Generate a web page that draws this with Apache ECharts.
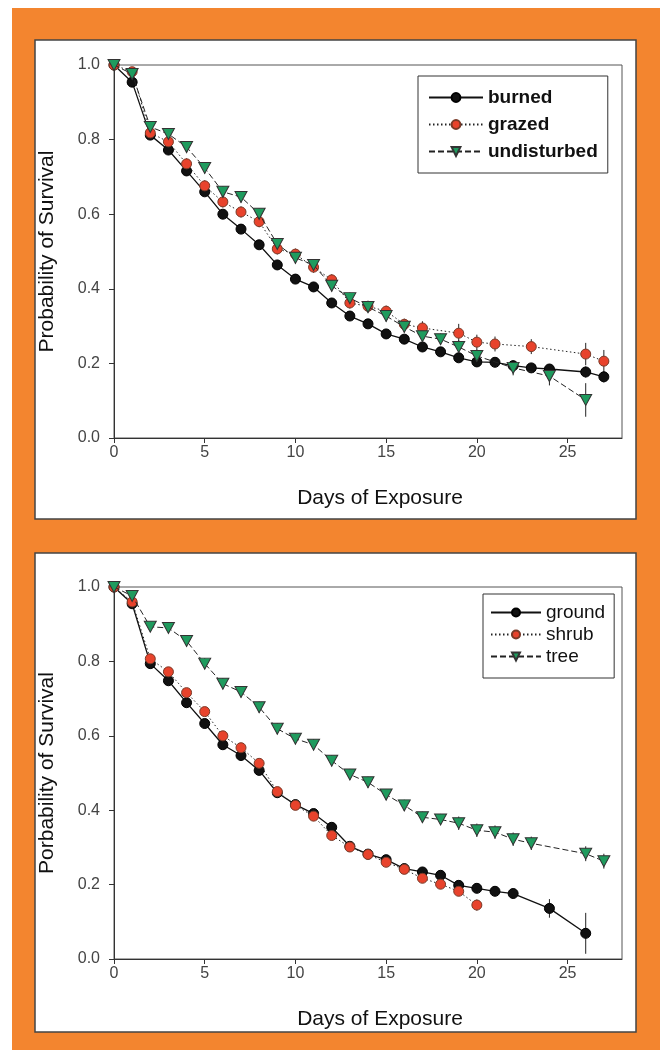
<!DOCTYPE html>
<html>
<head>
<meta charset="utf-8">
<script src="https://cdn.jsdelivr.net/npm/echarts@6/dist/echarts.min.js"></script>
<style>html,body{margin:0;padding:0;background:#fff;}#c{width:668px;height:1053px;}</style>
</head>
<body>
<div id="c"></div>
<script>
// ---------- Top chart: disturbance ----------
var burnedDays = [0,1,2,3,4,5,6,7,8,9,10,11,12,13,14,15,16,17,18,19,20,21,22,23,24,26,27];
var burned     = [1.0,0.954,0.812,0.772,0.716,0.660,0.600,0.560,0.518,0.464,0.426,0.405,0.362,0.327,0.306,0.279,0.265,0.244,0.231,0.215,0.204,0.203,0.194,0.188,0.185,0.177,0.164];
var burnedErr  = [0,0.006,0.01,0.01,0.01,0.01,0.01,0.01,0.01,0.01,0.01,0.01,0.01,0.01,0.01,0.01,0.01,0.01,0.01,0.01,0.01,0.01,0.012,0.012,0.012,0.015,0.015];

var grazedDays = [0,1,2,3,4,5,6,7,8,9,10,11,12,13,14,15,16,17,19,20,21,23,26,27];
var grazed     = [1.0,0.982,0.818,0.794,0.735,0.676,0.633,0.606,0.580,0.507,0.493,0.458,0.424,0.362,0.353,0.340,0.305,0.295,0.281,0.257,0.252,0.245,0.225,0.206];
var grazedErr  = [0,0.008,0.012,0.012,0.015,0.015,0.015,0.015,0.015,0.015,0.015,0.015,0.015,0.015,0.015,0.015,0.015,0.018,0.025,0.02,0.02,0.02,0.03,0.03];

var undisturbedDays = [0,1,2,3,4,5,6,7,8,9,10,11,12,13,14,15,16,17,18,19,20,22,24,26];
var undisturbed     = [1.0,0.976,0.834,0.815,0.780,0.724,0.660,0.646,0.601,0.520,0.483,0.464,0.408,0.375,0.351,0.327,0.298,0.273,0.265,0.244,0.220,0.188,0.166,0.102];
var undisturbedErr  = [0,0.008,0.012,0.012,0.015,0.015,0.015,0.015,0.015,0.015,0.015,0.015,0.015,0.015,0.015,0.015,0.015,0.015,0.015,0.018,0.018,0.02,0.025,0.045];

// ---------- Bottom chart: nest height ----------
var groundDays = [0,1,2,3,4,5,6,7,8,9,10,11,12,13,14,15,16,17,18,19,20,21,22,24,26];
var ground     = [1.0,0.955,0.794,0.748,0.689,0.633,0.576,0.547,0.507,0.447,0.415,0.391,0.354,0.303,0.282,0.267,0.243,0.234,0.225,0.198,0.190,0.182,0.176,0.136,0.069];
var groundErr  = [0,0.006,0.01,0.01,0.01,0.01,0.01,0.01,0.01,0.01,0.01,0.01,0.01,0.01,0.01,0.01,0.01,0.01,0.01,0.012,0.012,0.012,0.012,0.025,0.055];

var shrubDays = [0,1,2,3,4,5,6,7,8,9,10,11,12,13,14,15,16,17,18,19,20];
var shrub     = [1.0,0.960,0.807,0.772,0.716,0.665,0.600,0.568,0.526,0.450,0.413,0.384,0.332,0.301,0.281,0.260,0.241,0.217,0.201,0.182,0.145];
var shrubErr  = [0,0.006,0.01,0.01,0.01,0.01,0.01,0.01,0.01,0.01,0.01,0.01,0.01,0.01,0.01,0.01,0.01,0.01,0.012,0.012,0.015];

var treeDays = [0,1,2,3,4,5,6,7,8,9,10,11,12,13,14,15,16,17,18,19,20,21,22,23,26,27];
var tree     = [1.0,0.976,0.893,0.890,0.855,0.794,0.740,0.718,0.677,0.619,0.592,0.576,0.533,0.496,0.475,0.442,0.413,0.381,0.375,0.365,0.346,0.341,0.322,0.311,0.283,0.263];
var treeErr  = [0,0.008,0.012,0.012,0.015,0.015,0.015,0.015,0.015,0.015,0.015,0.015,0.015,0.015,0.015,0.015,0.015,0.015,0.015,0.018,0.018,0.018,0.018,0.018,0.02,0.02];

var xTickValues = [0,5,10,15,20,25];
var topYTitle = 'Probability of Survival';
var bottomYTitle = 'Porbability of Survival';
var xTitle = 'Days of Exposure';

var FONT = 'Liberation Sans, Arial, sans-serif';
var ORANGE = '#f3852f';
var RED = '#e8432c';
var GREEN = '#1f9b5e';
var TRI = 'path://M0,0 L10,0 L5,9 Z';

function pairs(d, v) { return d.map(function (x, i) { return [x, v[i]]; }); }
function errTriples(d, v, e) { return d.map(function (x, i) { return [x, v[i] - e[i], v[i] + e[i]]; }); }

function errSeries(idx, d, v, e) {
  return {
    type: 'custom', xAxisIndex: idx, yAxisIndex: idx, z: 1, silent: true,
    data: errTriples(d, v, e),
    renderItem: function (params, api) {
      var p1 = api.coord([api.value(0), api.value(1)]);
      var p2 = api.coord([api.value(0), api.value(2)]);
      return { type: 'line', shape: { x1: p1[0], y1: p1[1], x2: p2[0], y2: p2[1] },
               style: { stroke: '#222', lineWidth: 1 } };
    }
  };
}

function mkX(idx) {
  return {
    type: 'value', gridIndex: idx, min: 0, max: 28,
    name: xTitle, nameLocation: 'middle', nameGap: 50,
    nameTextStyle: { fontFamily: FONT, fontSize: 21, color: '#111', padding: [0, 0, 0, 24] },
    axisLine: { show: true, lineStyle: { color: '#333', width: 1 } },
    axisTick: { show: true, length: 5, customValues: xTickValues, lineStyle: { color: '#333' } },
    axisLabel: { customValues: xTickValues, margin: 7, fontFamily: FONT, fontSize: 16, color: '#444' },
    splitLine: { show: false }
  };
}
function mkY(idx, title) {
  return {
    type: 'value', gridIndex: idx, min: 0, max: 1, interval: 0.2,
    name: title, nameLocation: 'middle', nameGap: 56, nameRotate: 90,
    nameTextStyle: { fontFamily: FONT, fontSize: 21, color: '#111' },
    axisLine: { show: true, lineStyle: { color: '#333', width: 1 } },
    axisTick: { show: true, length: 5, lineStyle: { color: '#333' } },
    axisLabel: { margin: 14, fontFamily: FONT, fontSize: 16, color: '#444',
                 formatter: function (v) { return v.toFixed(1); } },
    splitLine: { show: false }
  };
}

function lineSeries(idx, name, d, v, kind) {
  var s = { type: 'line', name: name, xAxisIndex: idx, yAxisIndex: idx, data: pairs(d, v),
            z: 3, animation: false };
  if (kind === 0) {
    s.symbol = 'circle'; s.symbolSize = 10;
    s.itemStyle = { color: '#111', borderColor: '#000', borderWidth: 1 };
    s.lineStyle = { color: '#111', width: 1.3, type: 'solid' };
  } else if (kind === 1) {
    s.symbol = 'circle'; s.symbolSize = 10;
    s.itemStyle = { color: RED, borderColor: '#7a3a28', borderWidth: 1 };
    s.lineStyle = { color: '#222', width: 1, type: [1.5, 2.5] };
    s.z = 4;
  } else {
    s.symbol = TRI; s.symbolSize = [12, 11];
    s.itemStyle = { color: GREEN, borderColor: '#333', borderWidth: 1 };
    s.lineStyle = { color: '#222', width: 1, type: [6, 3] };
    s.z = 5;
  }
  return s;
}

var chart = echarts.init(document.getElementById('c'), null, { renderer: 'canvas' });
chart.setOption({
  animation: false,
  backgroundColor: '#fff',
  graphic: [
    { type: 'rect', z: -100, shape: { x: 12, y: 8, width: 648, height: 1042 }, style: { fill: ORANGE } },
    { type: 'rect', z: -99, shape: { x: 35, y: 40, width: 601, height: 479 }, style: { fill: '#fff', stroke: '#444', lineWidth: 1.5 } },
    { type: 'rect', z: -99, shape: { x: 35, y: 553, width: 601, height: 479 }, style: { fill: '#fff', stroke: '#444', lineWidth: 1.5 } }
  ],
  grid: [
    { left: 114, top: 65, width: 508, height: 373, show: true, borderColor: '#555', borderWidth: 1, backgroundColor: 'transparent' },
    { left: 114, top: 587, width: 508, height: 372, show: true, borderColor: '#555', borderWidth: 1, backgroundColor: 'transparent' }
  ],
  xAxis: [mkX(0), mkX(1)],
  yAxis: [mkY(0, topYTitle), mkY(1, bottomYTitle)],
  legend: [
    { data: ['burned', 'grazed', 'undisturbed'], orient: 'vertical', left: 418, top: 76,
      padding: [12, 10, 12, 10], itemGap: 8, itemWidth: 54, itemHeight: 11,
      borderColor: '#333', borderWidth: 1, backgroundColor: '#fff',
      textStyle: { fontFamily: FONT, fontSize: 19, fontWeight: 'bold', color: '#111' } },
    { data: ['ground', 'shrub', 'tree'], orient: 'vertical', left: 483, top: 594,
      padding: [9, 9, 12, 7], itemGap: 3, itemWidth: 50, itemHeight: 10,
      borderColor: '#333', borderWidth: 1, backgroundColor: '#fff',
      textStyle: { fontFamily: FONT, fontSize: 19, color: '#111' } }
  ],
  series: [
    errSeries(0, burnedDays, burned, burnedErr),
    errSeries(0, grazedDays, grazed, grazedErr),
    errSeries(0, undisturbedDays, undisturbed, undisturbedErr),
    lineSeries(0, 'burned', burnedDays, burned, 0),
    lineSeries(0, 'grazed', grazedDays, grazed, 1),
    lineSeries(0, 'undisturbed', undisturbedDays, undisturbed, 2),
    errSeries(1, groundDays, ground, groundErr),
    errSeries(1, shrubDays, shrub, shrubErr),
    errSeries(1, treeDays, tree, treeErr),
    lineSeries(1, 'ground', groundDays, ground, 0),
    lineSeries(1, 'shrub', shrubDays, shrub, 1),
    lineSeries(1, 'tree', treeDays, tree, 2)
  ]
});
</script>
</body>
</html>
